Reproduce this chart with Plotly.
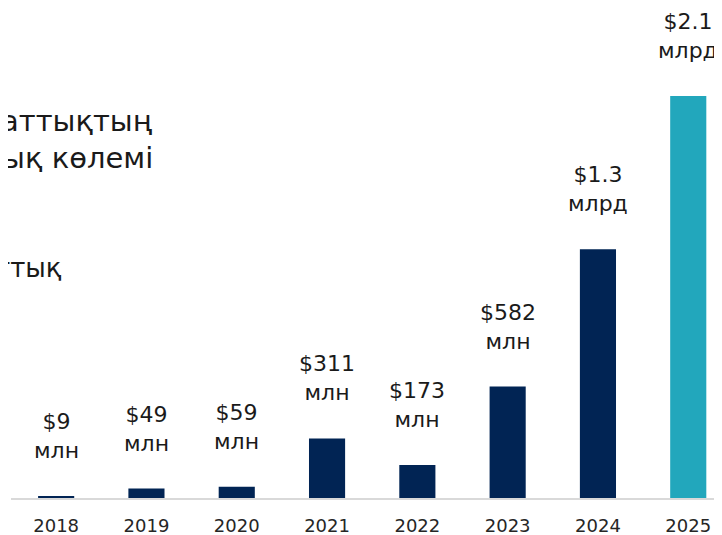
import plotly.graph_objects as go

# Деректер
years = ['2018', '2019', '2020', '2021', '2022', '2023', '2024', '2025']
values_mln = [9, 49, 59, 311, 173, 582, 1300, 2100]
labels = ['$9<br>млн', '$49<br>млн', '$59<br>млн', '$311<br>млн', '$173<br>млн',
          '$582<br>млн', '$1.3<br>млрд', '$2.1<br>млрд']
colors = ['#012454'] * 7 + ['#22A7BC']

title_lines = ['аттықтың', 'ық көлемі']
subtitle = 'ттық'

font_name = 'DejaVu Sans'
OFF = 8  # отступ body в браузере

fig = go.Figure()
fig.add_trace(go.Bar(
    x=list(range(len(years))), y=values_mln,
    marker=dict(color=colors, line=dict(width=0)),
    width=0.4,
    hoverinfo='skip',
))

# подписи над столбцами
for i, (v, lab) in enumerate(zip(values_mln, labels)):
    fig.add_annotation(
        x=i, y=v, xref='x', yref='y',
        text=lab, showarrow=False,
        yanchor='bottom', yshift=31,
        font=dict(family=font_name, size=22, color='#1a1a1a'),
    )

W, H = 722 - OFF, 535 - OFF
ML, MB = 11 - OFF, 535 - 498
PW, PH = W - ML, H - MB


def px_x(x):
    return (x - OFF - ML) / PW


def px_y(y):
    return (H - (y - OFF) - MB) / PH


# обрезанный заголовок слева
for i, line in enumerate(title_lines):
    fig.add_annotation(
        x=px_x(155), y=px_y(121 + i * 37), xref='paper', yref='paper',
        text=line, showarrow=False, xanchor='right', yanchor='middle',
        font=dict(family=font_name, size=29, color='#1a1a1a'),
    )
fig.add_annotation(
    x=px_x(64), y=px_y(268), xref='paper', yref='paper',
    text=subtitle, showarrow=False, xanchor='right', yanchor='middle',
    font=dict(family=font_name, size=26, color='#1a1a1a'),
)

fig.update_layout(
    width=W, height=H,
    margin=dict(l=ML, r=0, t=0, b=MB),
    paper_bgcolor='white', plot_bgcolor='white',
    showlegend=False,
    font=dict(family=font_name),
    xaxis=dict(
        range=[-0.5, -0.5 + PW / 90.3],
        tickmode='array', tickvals=list(range(len(years))), ticktext=years,
        showline=True, linecolor='#D9D9D9', linewidth=2,
        showgrid=False, zeroline=False, ticks='', fixedrange=True,
        ticklabelstandoff=10,
        tickfont=dict(family=font_name, size=18, color='#262626'),
    ),
    yaxis=dict(
        range=[0, (498 - OFF) / 191.4 * 1000], showgrid=False, zeroline=False,
        showticklabels=False, showline=False, ticks='',
    ),
)

fig.write_html('out.html')
